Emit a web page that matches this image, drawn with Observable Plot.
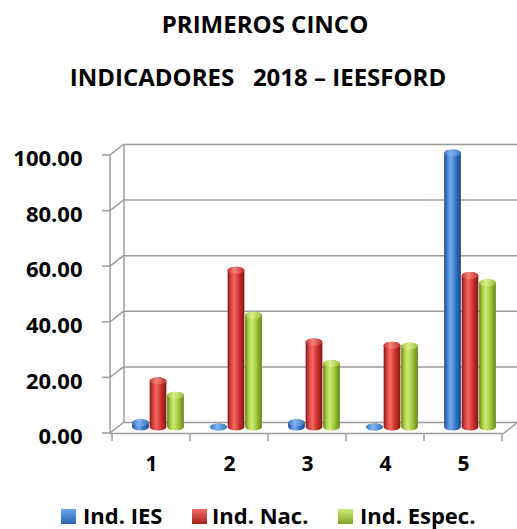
<!DOCTYPE html>
<html><head><meta charset="utf-8">
<script src="https://cdn.jsdelivr.net/npm/d3@7"></script>
<script src="https://cdn.jsdelivr.net/npm/@observablehq/plot@0.6"></script>
<style>
body{margin:0;background:#fff;}
#wrap{position:relative;width:517px;height:529px;font-family:"Open Sans",sans-serif;font-weight:700;color:#000;overflow:hidden;}
.t{position:absolute;white-space:pre;font-size:24px;line-height:32px;transform:translateX(-50%);}
.lg{position:absolute;white-space:pre;font-size:22px;line-height:24px;}
.sw{position:absolute;width:15px;height:15px;}
#chart{position:absolute;left:0;top:120px;}
</style></head>
<body><div id="wrap"><div id="chart"></div></div>
<script>
const categories = ["1", "2", "3", "4", "5"];
const seriesNames = ["Ind. IES", "Ind. Nac.", "Ind. Espec."];
const indIES = [1.5, 0, 1.5, 0, 98.6];
const indNac = [16.6, 56.4, 30.6, 29.4, 54.5];
const indEspec = [11.4, 40.2, 22.8, 29.1, 51.9];
const yTicks = [0, 20, 40, 60, 80, 100];
const titleLines = ["PRIMEROS CINCO", "INDICADORES   2018 – IEESFORD"];

const rows = categories.map((c, i) => ({cat: c, ies: indIES[i], nac: indNac[i], espec: indEspec[i]}));

const W = 517, H = 370, ML = 110, MR = 13, MT = 35, MB = 57;
const depthX = 14, depthY = -11;
const bw = 17.5, ry = 3.5, bdx = 7, bdy = -6;
const inset = ((W - ML - MR) / categories.length - bw) / 2;
const grid = "#9c9c9c";

const series = [
  {key: "ies", body: "url(#cylBlue)", top: "url(#topBlue)", off: -1, sw: "linear-gradient(#6aa4ea,#2a64b0)"},
  {key: "nac", body: "url(#cylRed)", top: "url(#topRed)", off: 0, sw: "linear-gradient(#ee6a62,#a8231f)"},
  {key: "espec", body: "url(#cylGreen)", top: "url(#topGreen)", off: 1, sw: "linear-gradient(#cfe87a,#7fa52a)"}
];

const plot = Plot.plot({
  width: W, height: H,
  marginLeft: ML, marginRight: MR, marginTop: MT, marginBottom: MB,
  x: {domain: categories, padding: 0, axis: null},
  y: {domain: [0, 100], axis: null},
  style: {overflow: "visible", background: "transparent"},
  marks: [
    Plot.ruleY(yTicks, {dx: depthX, dy: depthY, stroke: grid, strokeWidth: 1.5}),
    Plot.ruleY([0], {stroke: grid, strokeWidth: 1.5}),
    ...series.flatMap(s => [
      Plot.barY(rows, {x: "cat", y: s.key, fill: s.body, dx: bdx + s.off * bw, dy: bdy,
        insetLeft: inset, insetRight: inset, insetTop: -ry, insetBottom: -ry, rx: bw / 2, ry: ry}),
      Plot.barY(rows, {x: "cat", y1: s.key, y2: s.key, fill: s.top, dx: bdx + s.off * bw, dy: bdy,
        insetLeft: inset, insetRight: inset, insetTop: -ry, insetBottom: -ry, rx: bw / 2, ry: ry})
    ]),
    Plot.text(yTicks, {y: d => d, text: d => d.toFixed(2), frameAnchor: "left", textAnchor: "end",
      dx: -28, dy: 3.7, fontSize: 22, fontWeight: "bold", fontFamily: "Open Sans", fill: "#000"}),
    Plot.text(categories, {x: d => d, text: d => d, frameAnchor: "bottom", dy: 37,
      fontSize: 21, fontWeight: "bold", fontFamily: "Open Sans", fill: "#000"})
  ]
});

// 3D frame lines and gradients
const svg = d3.select(plot);
const ys = plot.scale("y"), xs = plot.scale("x");
const defs = svg.insert("defs", ":first-child");
function hGrad(id, stops) {
  const g = defs.append("linearGradient").attr("id", id).attr("x1", 0).attr("x2", 1).attr("y1", 0).attr("y2", 0);
  stops.forEach(([o, c]) => g.append("stop").attr("offset", o).attr("stop-color", c));
}
hGrad("cylBlue", [[0, "#1c4a88"], [0.22, "#4f8ad4"], [0.4, "#72a9ea"], [0.7, "#3172c2"], [1, "#1a4580"]]);
hGrad("cylRed", [[0, "#851814"], [0.22, "#dc4741"], [0.4, "#f26a62"], [0.7, "#cd2e29"], [1, "#801713"]]);
hGrad("cylGreen", [[0, "#66871a"], [0.22, "#b0d448"], [0.4, "#cfe97a"], [0.7, "#9cc436"], [1, "#628318"]]);
hGrad("topBlue", [[0, "#3c78c4"], [0.4, "#7fb3ee"], [1, "#3a74bd"]]);
hGrad("topRed", [[0, "#c8332e"], [0.4, "#f3847c"], [1, "#c22f2a"]]);
hGrad("topGreen", [[0, "#9cc33a"], [0.4, "#dcf08e"], [1, "#98bf36"]]);

const lines = svg.insert("g", "defs + *").attr("stroke", grid).attr("stroke-width", 1.5).attr("fill", "none");
const y0 = ys.apply(0), y100 = ys.apply(100);
const seg = (x1, y1, x2, y2) => lines.append("line").attr("x1", x1).attr("y1", y1).attr("x2", x2).attr("y2", y2);
seg(ML, y0, ML, y100);
seg(ML + depthX, y0 + depthY, ML + depthX, y100 + depthY);
yTicks.forEach(t => {
  const y = ys.apply(t);
  seg(ML - 8, y, ML, y);
  seg(ML, y, ML + depthX, y + depthY);
});
const bounds = categories.map(c => xs.apply(c)).concat([xs.apply(categories[categories.length - 1]) + xs.bandwidth]);
bounds.forEach(b => seg(b, y0, b, y0 + 8));
seg(W - MR, y0, W - MR + depthX, y0 + depthY);

document.getElementById("chart").appendChild(plot);

// titles
const wrap = document.getElementById("wrap");
const tpos = [[265, 7.7], [258, 60.7]];
titleLines.forEach((t, i) => {
  const d = document.createElement("div");
  d.className = "t"; d.textContent = t;
  d.style.left = tpos[i][0] + "px"; d.style.top = tpos[i][1] + "px";
  wrap.appendChild(d);
});
// legend
const lpos = [[61, 83], [192, 212], [338, 360]];
seriesNames.forEach((n, i) => {
  const s = document.createElement("div");
  s.className = "sw"; s.style.left = lpos[i][0] + "px"; s.style.top = "509px";
  s.style.background = series[i].sw;
  wrap.appendChild(s);
  const t = document.createElement("div");
  t.className = "lg"; t.textContent = n;
  t.style.left = lpos[i][1] + "px"; t.style.top = "503px";
  wrap.appendChild(t);
});
</script>
</body></html>
